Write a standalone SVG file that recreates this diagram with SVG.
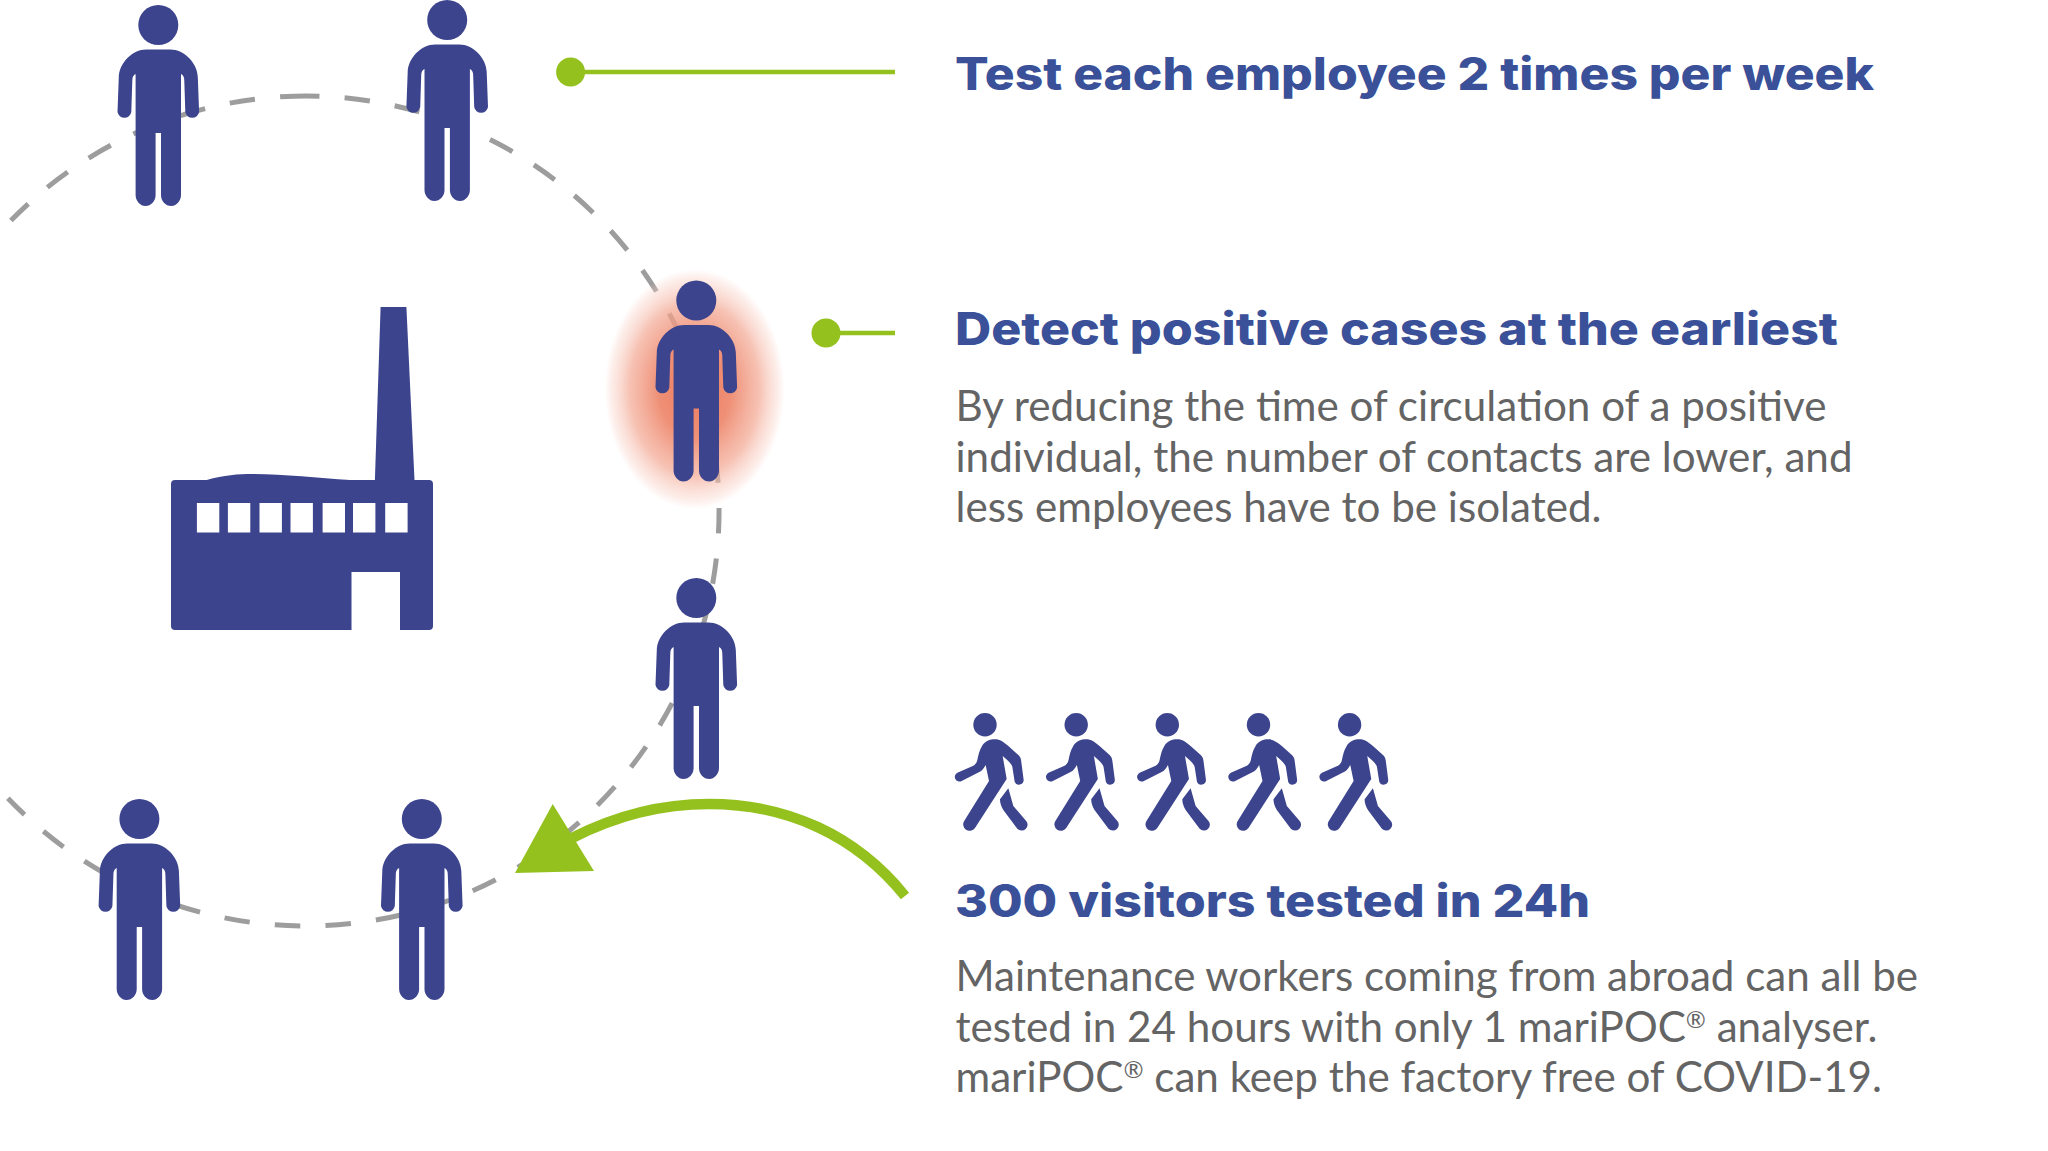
<svg xmlns="http://www.w3.org/2000/svg" width="2048" height="1151" viewBox="0 0 2048 1151">
<style>
.ink{fill:#3c448e}
.h{font-family:"Inter","Open Sans","Liberation Sans",sans-serif;font-weight:800;font-size:45px;fill:#3a5098}
.b{font-family:"Lato","Open Sans","Liberation Sans",sans-serif;font-weight:400;font-size:42px;fill:#646464}
.r{font-size:24px}
.g{fill:#95c11f}
.gl{stroke:#95c11f;fill:none;stroke-width:4.5}
.dash{fill:none;stroke:#9d9d9d;stroke-width:5;stroke-dasharray:25.5 25.2}
</style>
<defs>
<radialGradient id="glow"><stop offset="0" stop-color="#ec7a5c"/><stop offset=".4" stop-color="#ee8a6f" stop-opacity=".95"/><stop offset=".72" stop-color="#f3a792" stop-opacity=".7"/><stop offset=".92" stop-color="#f9d0c5" stop-opacity=".4"/><stop offset="1" stop-color="#f9d0c5" stop-opacity="0"/></radialGradient>
<g id="person"><circle cx="0" cy="0" r="20"/><path d="M0 24.5H12C26 24.5 39 38 39.5 52L40.8 87A7 7 0 0 1 27 87L26 56C26 52 25 50 22.7 49V170C22.7 176 18 181 13 181C7 181 2.7 176 2.7 170V108H-2.7V170C-2.7 176-7 181-13 181C-18 181-22.7 176-22.7 170V49C-25 50-26 52-26 56L-27 87A7 7 0 0 1-40.8 87L-39.5 52C-39 38-26 24.5-12 24.5Z"/></g>
<g id="walker"><circle cx="45" cy="24.7" r="11.7"/><path transform="scale(.3333)" d="M125 140C135 122 150 118 165 118C180 118 190 126 205 138L236 166C242 172 243 178 244 186L251 240A14 14 0 0 1 224 245L217 200C214 190 200 178 188 168L200 237L105 384A19 19 0 0 1 73 362L147 243L137 195C132 205 126 213 118 216L65 243A13 13 0 0 1 52 218L100 197C107 193 110 188 112 180C115 165 118 152 125 140ZM205 265L220 318L258 362A15 15 0 0 1 232 386L190 330C184 320 180 310 180 298Z"/></g>
</defs>
<rect width="2048" height="1151" fill="#fff"/>
<g id="connectors">
<path class="dash" d="M294 96.200A413 415 0 1 1 7.900 798.200"/>
<path class="dash" d="M294 96.200A413 415 0 0 0 10.900 220.600" stroke-dashoffset="11.500"/>
<path class="gl" d="M570 72H895"/>
<path class="gl" d="M826 333H895"/>
<path d="M905 896C856 835 787 804 709 804C662 804 617 815 572 838" fill="none" stroke="#95c11f" stroke-width="10.500"/>
<polygon class="g" points="552.700,804 515,873 594,871"/>
</g>
<g id="glow-node"><ellipse cx="694.600" cy="389" rx="90" ry="120" fill="url(#glow)"/></g>
<g id="factory" class="ink"><path fill-rule="evenodd" d="M175 480H206.700C224 475 238 474 252.600 474C283 474 318 478 350 480H374.900L380.600 307H406.400L414.500 480H429Q433 480 433 484V626Q433 630 429 630H400V572H351.500V630H175Q171 630 171 626V484Q171 480 175 480ZM196.900 503V532.500H219.300V503ZM227.900 503V532.500H250.300V503ZM259.500 503V532.500H281.900V503ZM290.500 503V532.500H312.900V503ZM322.600 503V532.500H345V503ZM353 503V532.500H375.400V503ZM385.200 503V532.500H407.600V503Z"/></g>
<use id="person-1" class="ink" href="#person" x="158.300" y="25"/>
<use id="person-2" class="ink" href="#person" x="447.200" y="20"/>
<use id="person-3" class="ink" href="#person" x="696.300" y="300.500"/>
<use id="person-4" class="ink" href="#person" x="696.300" y="598"/>
<use id="person-5" class="ink" href="#person" x="139.400" y="819"/>
<use id="person-6" class="ink" href="#person" x="421.800" y="819"/>
<g id="dot-1"><circle class="g" cx="570.600" cy="72" r="14.500"/></g>
<g id="dot-2"><circle class="g" cx="826" cy="333" r="14.500"/></g>
<g id="walkers" class="ink">
<use href="#walker" x="940" y="700"/><use href="#walker" x="1031.200" y="700"/><use href="#walker" x="1122.300" y="700"/><use href="#walker" x="1213.500" y="700"/><use href="#walker" x="1304.600" y="700"/>
</g>
<g id="text-1"><text class="h" x="955" y="90" textLength="919" lengthAdjust="spacingAndGlyphs">Test each employee 2 times per week</text></g>
<g id="text-2"><text class="h" x="955" y="345" textLength="883" lengthAdjust="spacingAndGlyphs">Detect positive cases at the earliest</text>
<text class="b" x="955.500" y="420.500" textLength="871" lengthAdjust="spacingAndGlyphs">By reducing the time of circulation of a positive</text>
<text class="b" x="955.500" y="471.500" textLength="897" lengthAdjust="spacingAndGlyphs">individual, the number of contacts are lower, and</text>
<text class="b" x="955.500" y="522" textLength="646" lengthAdjust="spacingAndGlyphs">less employees have to be isolated.</text></g>
<g id="text-3"><text class="h" x="955" y="916.500" textLength="635" lengthAdjust="spacingAndGlyphs">300 visitors tested in 24h</text>
<text class="b" x="955.500" y="991" textLength="962.500" lengthAdjust="spacingAndGlyphs">Maintenance workers coming from abroad can all be</text>
<text class="b" x="955.500" y="1042" textLength="922" lengthAdjust="spacingAndGlyphs">tested in 24 hours with only 1 mariPOC<tspan class="r" dy="-14">®</tspan><tspan dy="14"> analyser.</tspan></text>
<text class="b" x="955.500" y="1092" textLength="926.500" lengthAdjust="spacingAndGlyphs">mariPOC<tspan class="r" dy="-14">®</tspan><tspan dy="14"> can keep the factory free of COVID-19.</tspan></text></g>
</svg>
